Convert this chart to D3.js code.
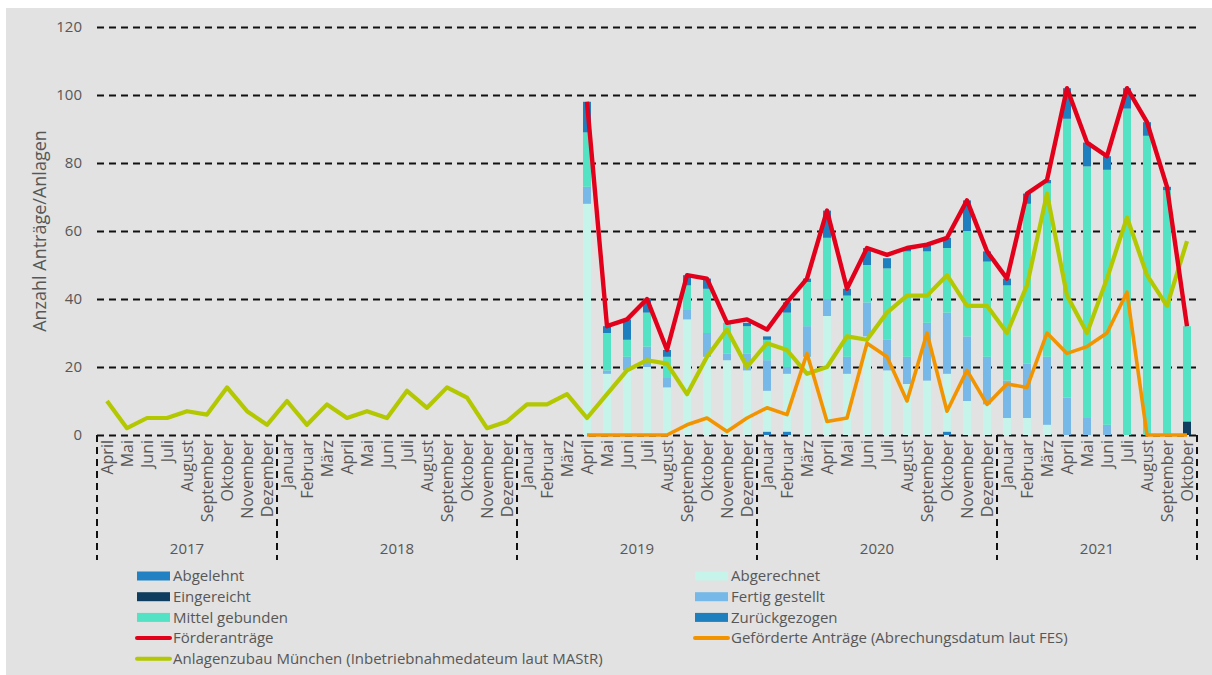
<!DOCTYPE html>
<html>
<head>
<meta charset="utf-8">
<script src="https://cdn.jsdelivr.net/npm/d3@7"></script>
<style>
  body { margin: 0; background: #fff; }
  text { font-family: "Open Sans", sans-serif; fill: #575757; }
</style>
</head>
<body>
<svg id="chart" width="1212" height="675"></svg>
<script>
// ---- data ----
const monthNames = ["Januar", "Februar", "März", "April", "Mai", "Juni", "Juli",
  "August", "September", "Oktober", "November", "Dezember"];
const years = ["2017", "2018", "2019", "2020", "2021"];
const firstMonth = [3, 0, 0, 0, 0];      // 2017 starts in April
const monthsInYear = [9, 12, 12, 12, 10]; // 2021 ends in October

// Anlagenzubau München, April 2017 - Oktober 2021
const anlagenzubau = [
  10, 2, 5, 5, 7, 6, 14, 7, 3,
  10, 3, 9, 5, 7, 5, 13, 8, 14, 11, 2, 4,
  9, 9, 12, 5, 12, 19, 22, 21, 12, 23, 31, 20,
  27, 25, 18, 20, 29, 28, 36, 41, 41, 47, 38, 38,
  30, 44, 71, 41, 30, 46, 64, 47, 38, 57
];

// the following series start in April 2019 (31 months)
const barStart = 24;
const foerderantraege = [
  98, 32, 34, 40, 25, 47, 46, 33, 34,
  31, 39, 46, 66, 43, 55, 53, 55, 56, 58, 69, 54,
  46, 71, 75, 102, 86, 82, 102, 92, 73, 32
];
const gefoerdert = [
  0, 0, 0, 0, 0, 3, 5, 1, 5,
  8, 6, 24, 4, 5, 27, 23, 10, 30, 7, 19, 9,
  15, 14, 30, 24, 26, 30, 42, 0, 0, 0
];
const abgelehnt = [
  0, 0, 0, 0, 0, 0, 0, 0, 0,
  1, 1, 0, 0, 0, 0, 0, 0, 0, 1, 0, 0,
  0, 0, 0, 0, 0, 0, 0, 0, 0, 0
];
const abgerechnet = [
  68, 18, 19, 20, 14, 34, 23, 22, 19,
  12, 17, 23, 35, 18, 29, 19, 15, 16, 17, 10, 9,
  5, 5, 3, 0, 0, 0, 0, 0, 0, 0
];
const eingereicht = [
  0, 0, 0, 0, 0, 0, 0, 0, 0,
  0, 0, 0, 0, 0, 0, 0, 0, 0, 0, 0, 0,
  0, 0, 0, 0, 0, 0, 0, 0, 0, 4
];
const fertigGestellt = [
  5, 1, 4, 6, 3, 3, 7, 2, 5,
  9, 2, 9, 5, 5, 10, 9, 8, 17, 18, 19, 14,
  11, 16, 20, 11, 5, 3, 0, 0, 0, 0
];
const mittelGebunden = [
  16, 11, 5, 10, 6, 7, 13, 9, 8,
  6, 16, 13, 18, 18, 11, 21, 31, 21, 19, 31, 28,
  28, 47, 51, 82, 74, 75, 96, 88, 72, 28
];
const zurueckgezogen = [
  9, 2, 6, 4, 2, 3, 3, 0, 1,
  1, 3, 1, 8, 2, 5, 3, 1, 2, 3, 9, 3,
  2, 3, 1, 9, 7, 4, 6, 4, 1, 0
];
const yTicks = [0, 20, 40, 60, 80, 100, 120];

// ---- build month list ----
const months = [];
years.forEach((yr, i) => {
  for (let k = 0; k < monthsInYear[i]; k++) {
    months.push({ id: yr + "-" + (firstMonth[i] + k), year: yr, name: monthNames[firstMonth[i] + k] });
  }
});

const stackKeys = ["abgelehnt", "abgerechnet", "eingereicht", "fertig", "mittel", "zurueck"];
const stackSeries = { abgelehnt, abgerechnet, eingereicht, fertig: fertigGestellt, mittel: mittelGebunden, zurueck: zurueckgezogen };
const colors = {
  abgelehnt: "#2181c2", abgerechnet: "#c6f3ea", eingereicht: "#0f3d5f",
  fertig: "#76b9e8", mittel: "#53e3c4", zurueck: "#1e7fbe",
  foerder: "#e2001a", gefoerdert: "#f29400", zubau: "#b3c800"
};

const barRows = months.map((m, i) => {
  const row = { id: m.id };
  stackKeys.forEach(k => { row[k] = i >= barStart ? stackSeries[k][i - barStart] : 0; });
  return row;
});

// ---- scales ----
const svg = d3.select("#chart");
const plotLeft = 97, plotRight = 1197, plotTop = 27, plotBottom = 435;

const x = d3.scaleBand()
  .domain(months.map(m => m.id))
  .range([plotLeft, plotRight])
  .paddingInner(0.6)
  .paddingOuter(0.3);
const step = x.step();
const cx = id => x(id) + x.bandwidth() / 2;

const y = d3.scaleLinear().domain([0, 120]).range([plotBottom, plotTop]);

// background
svg.append("rect")
  .attr("x", 6).attr("y", 8)
  .attr("width", 1206).attr("height", 667)
  .attr("fill", "#e1e2e1");

// grid + y axis
const yAxis = svg.append("g")
  .attr("transform", "translate(" + plotLeft + ",0)")
  .call(d3.axisLeft(y).tickValues(yTicks).tickSize(-(plotRight - plotLeft)).tickPadding(15));
yAxis.select(".domain").remove();
yAxis.selectAll(".tick line")
  .attr("stroke", "#111")
  .attr("stroke-width", 2)
  .attr("stroke-dasharray", "7,5");
yAxis.selectAll(".tick text")
  .style("font-size", "15px")
  .attr("fill", "#575757");

svg.append("text")
  .attr("transform", "translate(46," + ((plotTop + plotBottom) / 2) + ") rotate(-90)")
  .attr("text-anchor", "middle")
  .style("font-size", "18px")
  .text("Anzahl Anträge/Anlagen");

// ---- stacked bars ----
const stacked = d3.stack().keys(stackKeys)(barRows);
svg.append("g")
  .selectAll("g")
  .data(stacked)
  .join("g")
  .attr("fill", d => colors[d.key])
  .selectAll("rect")
  .data(d => d)
  .join("rect")
  .attr("x", d => x(d.data.id))
  .attr("width", x.bandwidth())
  .attr("y", d => y(d[1]))
  .attr("height", d => y(d[0]) - y(d[1]));

// ---- lines ----
const lineGen = d3.line()
  .defined(d => d.v != null)
  .x(d => cx(d.id))
  .y(d => y(d.v));

function lineData(values, offset) {
  return months.map((m, i) => ({ id: m.id, v: i >= offset ? values[i - offset] : null }));
}

[
  { values: anlagenzubau, offset: 0, color: colors.zubau, w: 4.2 },
  { values: gefoerdert, offset: barStart, color: colors.gefoerdert, w: 3.6 },
  { values: foerderantraege, offset: barStart, color: colors.foerder, w: 4.4 }
].forEach(s => {
  svg.append("path")
    .datum(lineData(s.values, s.offset))
    .attr("fill", "none")
    .attr("stroke", s.color)
    .attr("stroke-width", s.w)
    .attr("stroke-linejoin", "round")
    .attr("d", lineGen);
});

// ---- category axis ----
svg.append("g")
  .selectAll("text")
  .data(months)
  .join("text")
  .attr("transform", d => "translate(" + (cx(d.id) + 5.5) + "," + (plotBottom + 5) + ") rotate(-90)")
  .attr("text-anchor", "end")
  .style("font-size", "16px")
  .text(d => d.name);

// year brackets
const yearBounds = years.map(yr => {
  const ms = months.filter(m => m.year === yr);
  return {
    year: yr,
    x0: x(ms[0].id) - (step - x.bandwidth()) / 2,
    x1: x(ms[ms.length - 1].id) + x.bandwidth() + (step - x.bandwidth()) / 2
  };
});
const bracketBottom = 560;
const edges = [yearBounds[0].x0].concat(yearBounds.map(b => b.x1));
svg.append("g")
  .selectAll("line")
  .data(edges)
  .join("line")
  .attr("x1", d => d).attr("x2", d => d)
  .attr("y1", plotBottom).attr("y2", bracketBottom)
  .attr("stroke", "#111")
  .attr("stroke-width", 2)
  .attr("stroke-dasharray", "7,5");

svg.append("g")
  .selectAll("text")
  .data(yearBounds)
  .join("text")
  .attr("x", d => (d.x0 + d.x1) / 2)
  .attr("y", 554)
  .attr("text-anchor", "middle")
  .style("font-size", "15px")
  .text(d => d.year);

// ---- legend ----
const legendItems = [
  { label: "Abgelehnt", color: colors.abgelehnt, type: "bar" },
  { label: "Abgerechnet", color: colors.abgerechnet, type: "bar" },
  { label: "Eingereicht", color: colors.eingereicht, type: "bar" },
  { label: "Fertig gestellt", color: colors.fertig, type: "bar" },
  { label: "Mittel gebunden", color: colors.mittel, type: "bar" },
  { label: "Zurückgezogen", color: colors.zurueck, type: "bar" },
  { label: "Förderanträge", color: colors.foerder, type: "line" },
  { label: "Geförderte Anträge (Abrechungsdatum laut FES)", color: colors.gefoerdert, type: "line" },
  { label: "Anlagenzubau München (Inbetriebnahmedateum laut MAStR)", color: colors.zubau, type: "line" }
];
const LEGEND_COL_X = [137, 695];
const LEGEND_Y = 576;
const LEGEND_ROW = 20.7;
const legend = svg.append("g")
  .selectAll("g")
  .data(legendItems)
  .join("g")
  .attr("transform", (d, i) => "translate(" + LEGEND_COL_X[i % 2] + "," + (LEGEND_Y + Math.floor(i / 2) * LEGEND_ROW) + ")");

legend.filter(d => d.type === "bar").append("rect")
  .attr("x", 0).attr("y", -4.5)
  .attr("width", 33).attr("height", 9)
  .attr("fill", d => d.color);
legend.filter(d => d.type === "line").append("line")
  .attr("x1", 0).attr("x2", 33)
  .attr("stroke", d => d.color)
  .attr("stroke-width", 4)
  .attr("stroke-linecap", "round");
legend.append("text")
  .attr("x", 36)
  .attr("dy", "0.35em")
  .style("font-size", "15px")
  .text(d => d.label);
</script>
</body>
</html>
